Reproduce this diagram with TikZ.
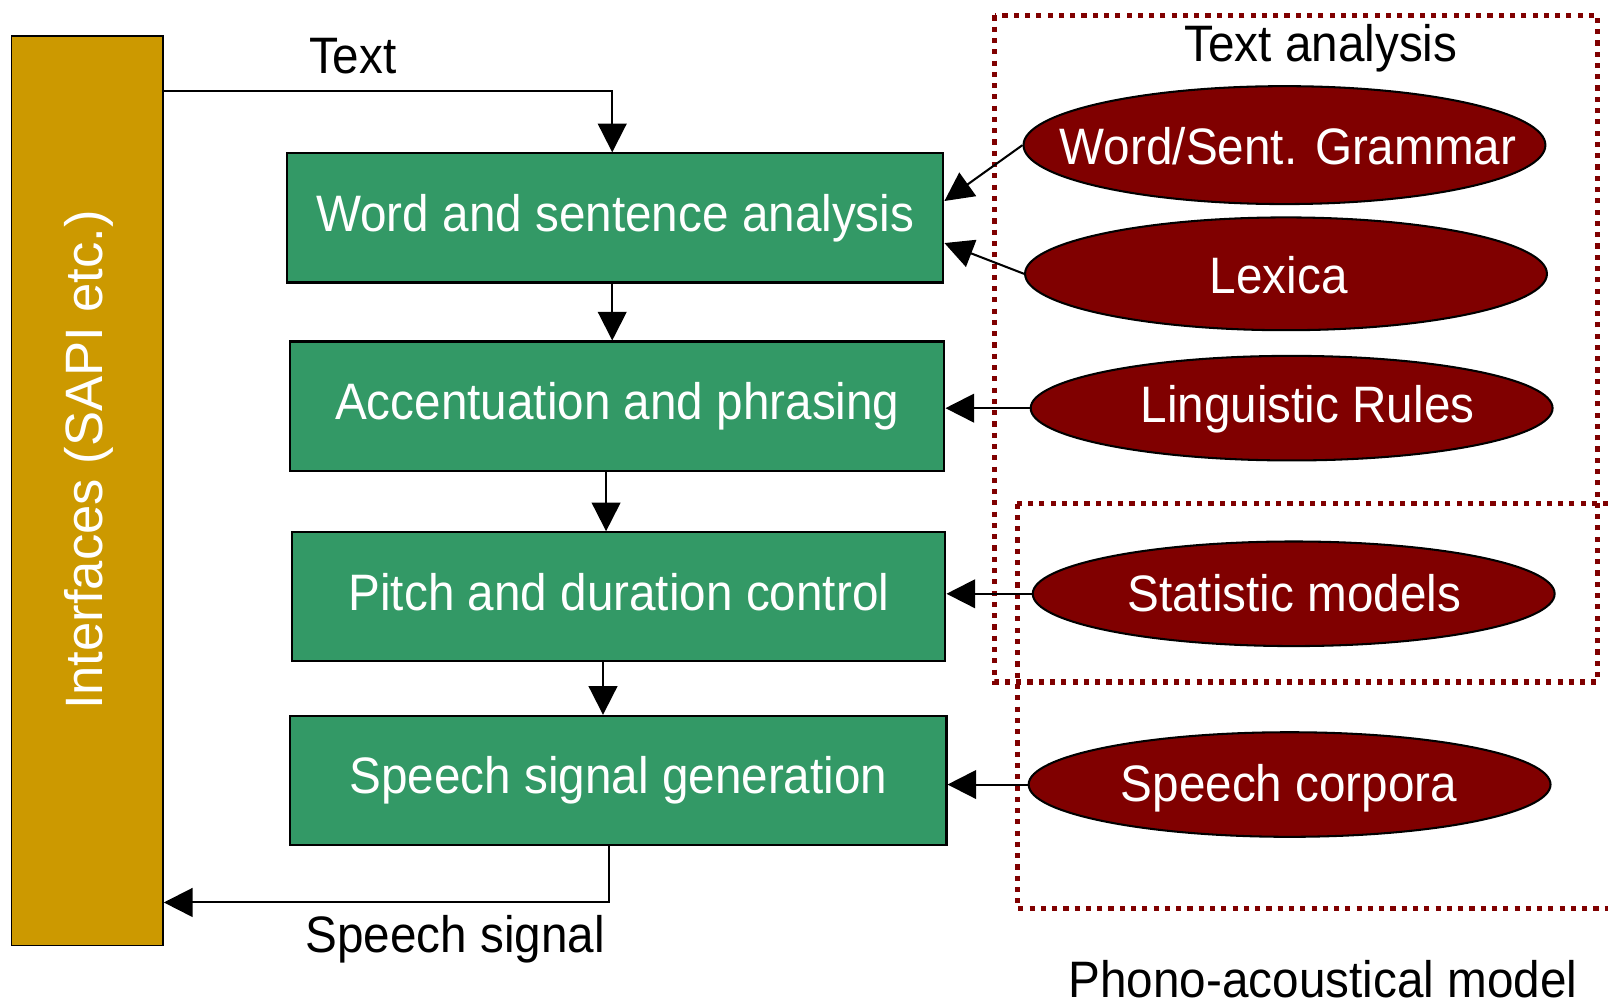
\documentclass[tikz,border=0pt]{standalone}
\usepackage{fontspec}
\setmainfont[FakeStretch=0.93]{Liberation Sans}
\newfontfamily\barfont{Liberation Sans}
\usetikzlibrary{arrows.meta,shapes.geometric}
\definecolor{bargold}{HTML}{CC9900}
\definecolor{boxgreen}{HTML}{339966}
\definecolor{darkred}{HTML}{800000}
\begin{document}
\begin{tikzpicture}[x=0.02cm,y=-0.02cm,
  every node/.style={font=\fontsize{28.45pt}{34pt}\selectfont},
  stage/.style={draw=black, line width=0.04cm, fill=boxgreen, text=white, minimum height=2.52cm, inner sep=0pt, text height=0.72cm, text depth=0.2cm},
  source/.style={ellipse, draw=black, line width=0.04cm, fill=darkred, inner sep=0pt, minimum width=10.18cm},
  wlabel/.style={text=white, anchor=base, inner sep=0pt},
  blabel/.style={text=black, anchor=base, inner sep=0pt},
  arr/.style={line width=0.04cm, -{Triangle[length=0.56cm,width=0.56cm]}},
  group/.style={draw=darkred, line width=0.1cm, dash pattern=on 0.1cm off 0.12cm}
]
\useasboundingbox (0,0) rectangle (1568,978);
\clip (0,0) rectangle (1568,978);

% interface bar
\node[draw=black, line width=0.03cm, fill=bargold, minimum width=2.96cm, minimum height=17.74cm, inner sep=0pt] (bar) at (85,478.5) {};
\node[rotate=90, anchor=base, text=white, inner sep=0pt, font=\barfont\fontsize{29.2pt}{34pt}\selectfont] (barlabel) at (100,448.5) {Interfaces (SAPI etc.)};

% group frames
\draw[group] (970,15) rectangle (1558,665);
\draw[group] (992,491) rectangle (1600,886);

% processing stages
\node[stage, minimum width=12.8cm] (b1) at (600,212.5) {Word and sentence analysis};
\node[stage, minimum width=12.76cm] (b2) at (602,396) {Accentuation and phrasing};
\node[stage, minimum width=12.74cm] (b3) at (603.5,582) {Pitch and duration control};
\node[stage, minimum width=12.8cm] (b4) at (603,761) {Speech signal generation};

% knowledge sources
\node[source, minimum height=2.3cm] (e1) at (1252.5,141.5) {};
\node[source, minimum height=2.2cm] (e2) at (1254,267) {};
\node[source, minimum height=2.04cm] (e3) at (1259.5,398) {};
\node[source, minimum height=2.04cm] (e4) at (1261.5,579) {};
\node[source, minimum height=2.04cm] (e5) at (1257.5,765) {};
\node[wlabel] (te1) at (1256,160) {Word/Sent. Grammar};
\node[wlabel] (te2) at (1247,286) {Lexica};
\node[wlabel] (te3) at (1275,412) {Linguistic Rules};
\node[wlabel] (te4) at (1262,596) {Statistic models};
\node[wlabel] (te5) at (1257,782) {Speech corpora};

% labels
\node[blabel] (ltext) at (344,72) {Text};
\node[blabel] (lspeech) at (444,929) {Speech signal};
\node[blabel] (lta) at (1288,60) {Text analysis};
\node[blabel, text depth=0pt] (lpa) at (1290,973) {Phono-acoustical model};

% main flow
\coordinate (tin) at (597,89);
\draw[arr] (bar.east |- tin) -- (tin) -- (tin |- b1.north);
\draw[arr] (597,0 |- b1.south) -- (597,0 |- b2.north);
\draw[arr] (591,0 |- b2.south) -- (591,0 |- b3.north);
\draw[arr] (588,0 |- b3.south) -- (588,0 |- b4.north);
\coordinate (tout) at (594,880);
\draw[arr] (tout |- b4.south) -- (tout) -- (bar.east |- tout);

% knowledge inputs
\draw[arr] (e1.west) -- (b1.east |- 0,196);
\draw[arr] (e2.west) -- (b1.east |- 0,237);
\draw[arr] (e3.west) -- (e3.west -| b2.east);
\draw[arr] (e4.west) -- (e4.west -| b3.east);
\draw[arr] (e5.west) -- (e5.west -| b4.east);
\end{tikzpicture}
\end{document}
